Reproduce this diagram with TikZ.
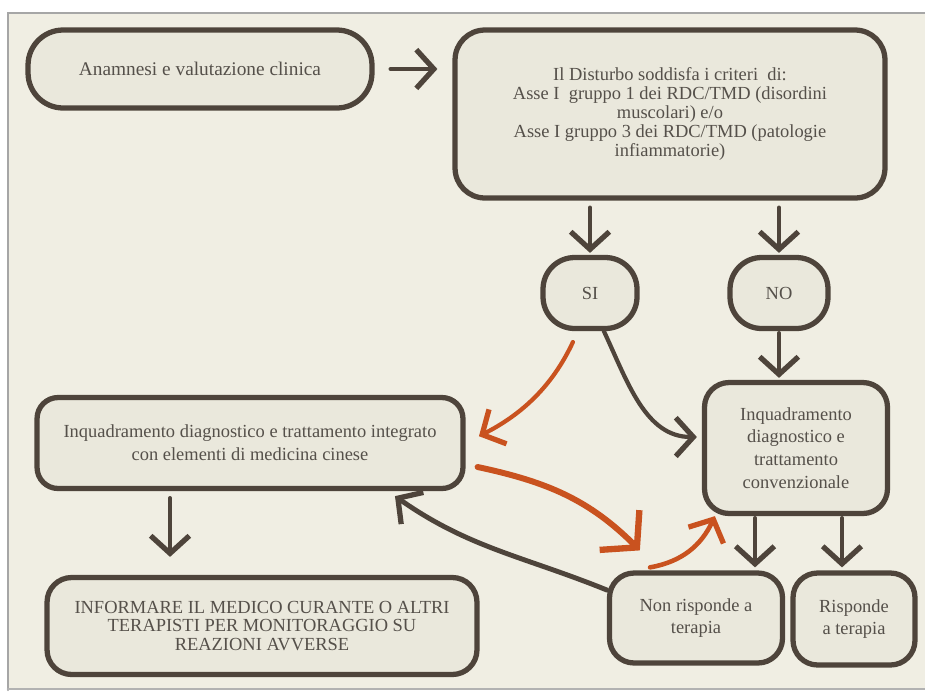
\documentclass[tikz,border=0pt]{standalone}
\usepackage{fontspec}
\setmainfont{Liberation Serif}
\usetikzlibrary{arrows.meta}
\usepackage{xcolor}
\definecolor{brush}{HTML}{4E443B}
\definecolor{paper}{HTML}{F0EEE3}
\definecolor{boxfill}{HTML}{EAE8DC}
\definecolor{ink}{HTML}{55504A}
\definecolor{rust}{HTML}{C9521F}

\begin{document}
\begin{tikzpicture}[x=0.02cm,y=-0.02cm,line cap=round,
  >={Straight Barb[length=10pt,width=22pt,line width=3pt]},
  box/.style={draw=brush,line width=3pt,fill=boxfill,align=center,text=ink,inner sep=2pt},
  tight/.style={font=\fontsize{10.5}{10.8}\selectfont},
  loose/.style={font=\fontsize{10.5}{13}\selectfont},
  link/.style={->,draw=brush,line width=2.4pt},
  hint/.style={->,draw=rust,line width=2.4pt}]
\useasboundingbox (0,0) rectangle (925,694);
\fill[white] (0,0) rectangle (925,694);
\fill[paper] (8,13) rectangle (925,690);
\draw[gray!70,line width=1.2pt] (8,690) -- (8,13) -- (925,13);
\draw[gray!60,line width=1.5pt] (8,689) -- (925,689);

\node[box,tight,font=\fontsize{11}{12}\selectfont,rounded corners=20pt,minimum width=6.88cm,minimum height=1.56cm] (anam) at (200,69) {Anamnesi e valutazione clinica};
\node[box,tight,rounded corners=17pt,minimum width=8.6cm,minimum height=3.36cm] (crit) at (670,114) {Il Disturbo soddisfa i criteri\ \ di:\\Asse I\ \ gruppo 1 dei RDC/TMD (disordini\\muscolari) e/o\\Asse I gruppo 3 dei RDC/TMD (patologie\\infiammatorie)};
\node[box,tight,rounded corners=18pt,minimum width=1.88cm,minimum height=1.42cm] (si) at (590,293) {SI};
\node[box,tight,rounded corners=18pt,minimum width=1.96cm,minimum height=1.42cm] (no) at (779,293) {NO};
\node[box,loose,rounded corners=12pt,minimum width=8.52cm,minimum height=1.82cm] (integ) at (250,443) {Inquadramento diagnostico e trattamento integrato\\con elementi di medicina cinese};
\node[box,loose,rounded corners=14pt,minimum width=3.66cm,minimum height=2.62cm] (conv) at (796,448) {Inquadramento\\diagnostico e\\trattamento\\convenzionale};
\node[box,loose,rounded corners=14pt,minimum width=3.46cm,minimum height=1.8cm] (nonr) at (696,618) {Non risponde a\\terapia};
\node[box,loose,rounded corners=14pt,minimum width=2.44cm,minimum height=1.84cm] (risp) at (854,619) {Risponde\\a terapia};
\node[box,tight,rounded corners=14pt,minimum width=8.6cm,minimum height=1.94cm] (info) at (262,626) {INFORMARE IL MEDICO CURANTE O ALTRI\\TERAPISTI PER MONITORAGGIO SU\\REAZIONI AVVERSE};

\draw[link,shorten <=0.32cm,shorten >=0.3cm] (anam.east) -- (anam.east -| crit.west);
\draw[link,shorten <=0.14cm,shorten >=0.04cm] (si.north |- crit.south) -- (si.north);
\draw[link,shorten <=0.14cm,shorten >=0.04cm] (no.north |- crit.south) -- (no.north);
\draw[link,shorten <=0.04cm,shorten >=0.04cm] (no.south) -- (no.south |- conv.north);
\draw[link,shorten >=0.1cm] (si.-70) to[out=-65,in=180] ([yshift=0.22cm]conv.west);
\draw[link,shorten <=0.14cm,shorten >=0.36cm] ([xshift=-1.6cm]integ.south) -- ([xshift=-1.6cm]integ.south |- info.north);
\draw[link,shorten <=0.04cm,shorten >=0.06cm] ([xshift=-0.82cm]conv.south) -- ([xshift=-0.82cm]conv.south |- nonr.north);
\draw[link,shorten <=0.04cm,shorten >=0.06cm] ([xshift=0.92cm]conv.south) -- ([xshift=0.92cm]conv.south |- risp.north);
\draw[link,line width=2.8pt] ([yshift=0.56cm]nonr.west) to[out=158,in=-35] ([xshift=2.9cm,yshift=-0.1cm]integ.south);

\draw[hint,shorten <=0.24cm,shorten >=0.3cm] ([xshift=-0.24cm]si.south) to[out=-115,in=27] (integ.east);
\draw[hint,line width=3.4pt,>={Straight Barb[length=14pt,width=32pt,line width=3.6pt]}] ([xshift=0.24cm,yshift=-0.48cm]integ.east) to[out=-12,in=135] ([xshift=0.66cm,yshift=0.4cm]nonr.north west);
\draw[hint,line width=2.6pt] ([xshift=-0.92cm,yshift=0.06cm]nonr.north) to[out=10,in=-115] ([xshift=0.26cm]conv.south west);
\end{tikzpicture}
\end{document}
